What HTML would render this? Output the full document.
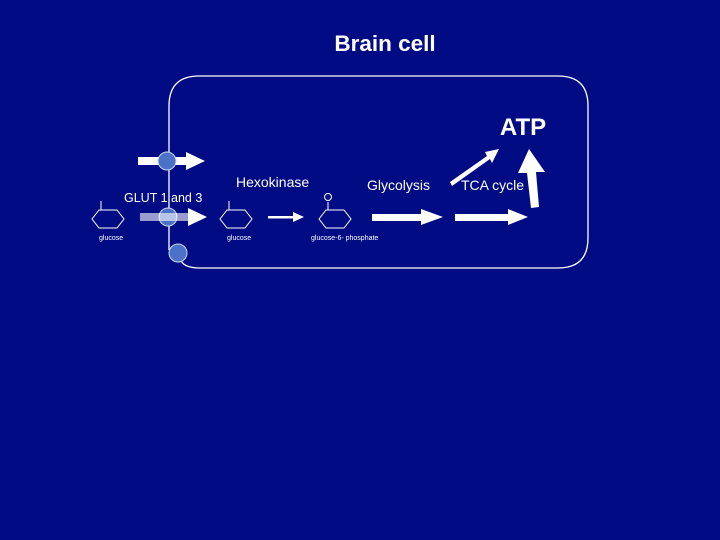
<!DOCTYPE html>
<html><head><style>
html,body{margin:0;padding:0;background:#000b84;}
svg{display:block}
text{font-family:"Liberation Sans",Arial,sans-serif;fill:#fff}
</style></head><body>
<svg width="720" height="540" viewBox="0 0 720 540" xmlns="http://www.w3.org/2000/svg">
<rect width="720" height="540" fill="#000b84"/>
<text x="385" y="51" font-size="22.5" font-weight="bold" text-anchor="middle">Brain cell</text>
<path d="M169 250 L169 106 Q169 76 199 76 L558 76 Q588 76 588 106 L588 238 Q588 268 558 268 L200 268 Q182 268 180 258" fill="none" stroke="#fff" stroke-width="1.3"/>
<text x="523" y="135" font-size="24" font-weight="bold" text-anchor="middle">ATP</text>
<circle cx="168" cy="217" r="9" fill="#4b72c6" stroke="#cfd8f0" stroke-width="1"/>
<g fill="#fff">
<rect x="138" y="157" width="50" height="8"/><polygon points="186,152 205,161 186,170"/>
<rect x="140" y="213" width="50" height="8" fill-opacity="0.6"/><polygon points="188,208 207,217 188,226"/>
<rect x="268" y="216" width="27" height="2.5"/><polygon points="293,212 304,217 293,222"/>
<rect x="372" y="214" width="52" height="7"/><polygon points="421,209 443,217 421,225"/>
<rect x="455" y="214" width="55" height="7"/><polygon points="508,209 528,217 508,225"/>
<polygon points="450,182 452,186 490,159 492,163 499,149 485,152 487,156"/>
<polygon points="531,208 539,207 536,172 545,172 529,149 518,173 527,173"/>
</g>
<circle cx="167" cy="161" r="9" fill="#4b72c6" stroke="#cfd8f0" stroke-width="1"/>
<circle cx="178" cy="253" r="9" fill="#4b72c6" stroke="#cfd8f0" stroke-width="1"/>
<text x="124" y="202" font-size="12.5">GLUT 1 and 3</text>
<text x="236" y="187" font-size="14">Hexokinase</text>
<text x="367" y="190" font-size="14">Glycolysis</text>
<text x="461" y="190" font-size="14">TCA cycle</text>
<g fill="none" stroke="#fff" stroke-width="1">
<polygon points="92,219 99,210 117,210 124,219 117,228 99,228"/>
<line x1="101" y1="210" x2="101" y2="201"/>
<polygon points="220,219 227,210 245,210 252,219 245,228 227,228"/>
<line x1="229" y1="210" x2="229" y2="201"/>
<polygon points="319,219 326,210 344,210 351,219 344,228 326,228"/>
<line x1="328" y1="210" x2="328" y2="202"/>
<circle cx="328" cy="197" r="3.5"/>
</g>
<text x="99" y="240" font-size="7">glucose</text>
<text x="227" y="240" font-size="7">glucose</text>
<text x="311" y="240" font-size="7">glucose-6- phosphate</text>
</svg>
</body></html>
